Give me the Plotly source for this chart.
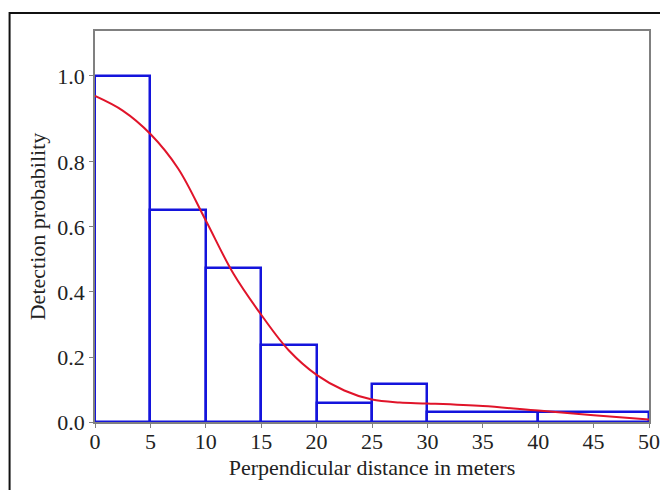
import plotly.graph_objects as go

# ---- data ----
bin_edges = [0, 5, 10, 15, 20, 25, 30, 40, 50]
bin_heights = [1.065, 0.652, 0.474, 0.236, 0.059, 0.117, 0.030, 0.030]

curve_x = [0, 2.5, 5, 7.5, 10, 12.5, 15, 17.5, 20, 22.5, 25, 27.5, 30, 35, 40, 45, 50]
curve_y = [1.003, 0.958, 0.886, 0.780, 0.620, 0.456, 0.330, 0.220, 0.145, 0.097, 0.069,
           0.060, 0.057, 0.049, 0.035, 0.021, 0.008]

x_ticks = [0, 5, 10, 15, 20, 25, 30, 35, 40, 45, 50]
y_tick_vals = [0.0, 0.2, 0.4, 0.6, 0.8, 1.065]
y_tick_text = ["0.0", "0.2", "0.4", "0.6", "0.8", "1.0"]

BLUE = "#1414dc"
RED = "#e0142a"
AXIS = "#808080"
FONT = "Liberation Serif"
FS = 22

centers = [(a + b) / 2 for a, b in zip(bin_edges[:-1], bin_edges[1:])]
widths = [b - a for a, b in zip(bin_edges[:-1], bin_edges[1:])]

fig = go.Figure()
fig.add_trace(go.Bar(
    x=centers, y=bin_heights, width=widths,
    marker=dict(color="rgba(0,0,0,0)", line=dict(color=BLUE, width=2.5)),
    showlegend=False, hoverinfo="skip",
))
fig.add_trace(go.Scatter(
    x=curve_x, y=curve_y, mode="lines",
    line=dict(color=RED, width=2, shape="spline", smoothing=1.0),
    showlegend=False,
))

# page body has an 8px margin, so figure coords = page coords - 8
W, H = 660, 482
L, R, T, B = 86.5, 19, 23, 68
pw, ph = W - L - R, H - T - B

fig.update_layout(
    width=W, height=H,
    margin=dict(l=L, r=R, t=T, b=B, pad=0, autoexpand=False),
    paper_bgcolor="white", plot_bgcolor="white",
    font=dict(family=FONT, size=FS, color="#222222"),
    bargap=0,
    xaxis=dict(
        range=[0, 50], tickvals=x_ticks, ticktext=[str(v) for v in x_ticks],
        showgrid=False, zeroline=False, automargin=False,
        showline=True, linecolor=AXIS, linewidth=1.5, mirror=True,
        ticks="outside", ticklen=4, tickcolor=AXIS, tickwidth=1,
        ticklabelstandoff=-5,
        title=dict(text="Perpendicular distance in meters", standoff=6,
                   font=dict(family=FONT, size=FS)),
        tickfont=dict(family=FONT, size=FS),
    ),
    yaxis=dict(
        range=[0, 1.203], tickvals=y_tick_vals, ticktext=y_tick_text,
        showgrid=False, zeroline=False, automargin=False,
        showline=True, linecolor=AXIS, linewidth=1.5, mirror=True,
        ticks="outside", ticklen=4, tickcolor=AXIS, tickwidth=1,
        title=dict(text="Detection probability", standoff=6,
                   font=dict(family=FONT, size=FS)),
        tickfont=dict(family=FONT, size=FS),
    ),
    shapes=[dict(
        type="rect", xref="paper", yref="paper",
        x0=(1 - L) / pw, x1=(W + 20 - L) / pw,
        y0=(H - B - (H + 20)) / ph, y1=(H - B - 5) / ph,
        line=dict(color="#111111", width=2), fillcolor="rgba(0,0,0,0)", layer="above",
    )],
)

fig.write_html("out.html")
